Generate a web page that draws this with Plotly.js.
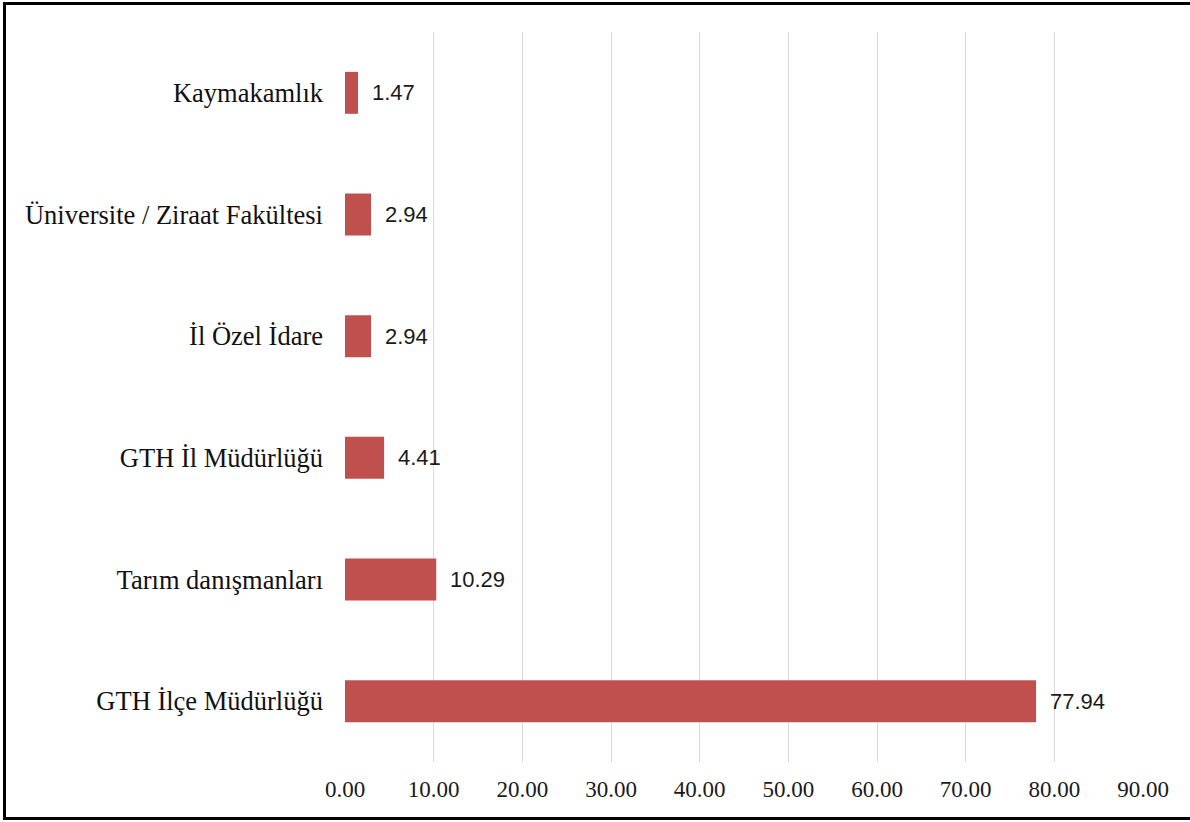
<!DOCTYPE html>
<html>
<head>
<meta charset="utf-8">
<script src="https://cdn.plot.ly/plotly-3.0.1.min.js"></script>
<style>
    html, body { margin: 0; padding: 0; background: #fff; overflow: hidden; }
    #chart { position: absolute; left: 0; top: 0; width: 1190px; height: 822px; }
    #frame {
        position: absolute; left: 3px; top: 2px; width: 1200px; height: 818px;
        box-sizing: border-box; border: 3px solid #000; border-right: none;
        pointer-events: none;
    }
</style>
</head>
<body>
<div id="chart"></div>
<div id="frame"></div>
<script>
// categories listed top to bottom, as in the picture
const categories = [
    "Kaymakamlık",
    "Üniversite / Ziraat Fakültesi",
    "İl Özel İdare",
    "GTH İl Müdürlüğü",
    "Tarım danışmanları",
    "GTH İlçe Müdürlüğü"
];
const percents = [1.47, 2.94, 2.94, 4.41, 10.29, 77.94];
const tickValues = [0, 10, 20, 30, 40, 50, 60, 70, 80, 90];
const tickLabels = tickValues.map(v => v.toFixed(2));

const barColor = "#C0504D";

const trace = {
    type: "bar",
    orientation: "h",
    x: percents,
    y: categories,
    marker: { color: barColor },
    hoverinfo: "skip"
};

// value labels sit a little to the right of each bar end
const labels = percents.map((v, i) => ({
    x: v,
    y: categories[i],
    xref: "x",
    yref: "y",
    text: v.toFixed(2),
    showarrow: false,
    xanchor: "left",
    yanchor: "middle",
    xshift: 12,
    font: { family: "Liberation Sans, Arial, sans-serif", size: 22, color: "#1a1a1a" }
}));

const layout = {
    width: 1190,
    height: 822,
    margin: { l: 345, r: 47, t: 32, b: 60 },
    paper_bgcolor: "#fff",
    plot_bgcolor: "#fff",
    showlegend: false,
    bargap: 0.655,
    xaxis: {
        range: [0, 90],
        tickvals: tickValues,
        ticktext: tickLabels,
        showgrid: true,
        gridcolor: "#d9d9d9",
        gridwidth: 1,
        zeroline: false,
        showline: false,
        ticks: "",
        ticklabelstandoff: 11,
        tickfont: { family: "Liberation Serif, Times New Roman, serif", size: 23, color: "#1a1a1a" },
        fixedrange: true
    },
    yaxis: {
        autorange: "reversed",
        showgrid: false,
        zeroline: false,
        showline: false,
        ticks: "",
        ticklabelstandoff: 21,
        tickfont: { family: "Liberation Serif, Times New Roman, serif", size: 26.5, color: "#111" },
        fixedrange: true
    },
    annotations: labels
};

Plotly.newPlot("chart", [trace], layout, { displayModeBar: false, staticPlot: true });
</script>
</body>
</html>
